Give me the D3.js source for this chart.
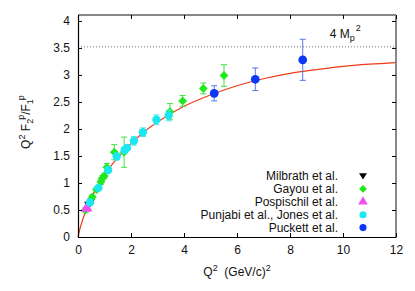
<!DOCTYPE html>
<html>
<head>
<meta charset="utf-8">
<script src="https://cdn.jsdelivr.net/npm/d3@7"></script>
<style>
  body { margin: 0; background: #fff; }
  text { font-family: "Liberation Sans", Arial, sans-serif; fill: #111; }
</style>
</head>
<body>
<svg id="chart"></svg>
<script>
// data
var xTicks = [0, 2, 4, 6, 8, 10, 12];
var yTicks = [0, 0.5, 1, 1.5, 2, 2.5, 3, 3.5, 4];
var yTickLabels = ["0", "0.5", "1", "1.5", "2", "2.5", "3", "3.5", "4"];

var legendNames = ["Milbrath et al.", "Gayou et al.", "Pospischil et al.", "Punjabi et al., Jones et al.", "Puckett et al."];

var milbrathQ2 = [0.38, 0.5];
var milbrathVal = [0.6, 0.66];
var milbrathErr = [0.03, 0.03];

var gayouQ2 = [0.28, 0.54, 0.7, 0.86, 0.92, 0.99, 1.09, 1.37, 1.74, 3.47, 3.95, 4.73, 5.51];
var gayouVal = [0.5, 0.74, 0.88, 1.02, 1.09, 1.13, 1.29, 1.57, 1.57, 2.32, 2.52, 2.75, 2.99];
var gayouErr = [0.04, 0.04, 0.04, 0.05, 0.05, 0.05, 0.07, 0.14, 0.28, 0.15, 0.1, 0.1, 0.2];

var pospischilQ2 = [0.3, 0.35];
var pospischilVal = [0.52, 0.53];
var pospischilErr = [0.03, 0.03];

var punjabiQ2 = [0.45, 0.77, 1.14, 1.46, 1.76, 1.85, 2.11, 2.45, 2.96, 3.42];
var punjabiVal = [0.64, 0.91, 1.24, 1.49, 1.61, 1.65, 1.78, 1.94, 2.17, 2.25];
var punjabiErr = [0.03, 0.03, 0.04, 0.06, 0.05, 0.05, 0.08, 0.08, 0.09, 0.1];

var puckettQ2 = [5.14, 6.69, 8.48];
var puckettVal = [2.66, 2.92, 3.28];
var puckettErr = [0.14, 0.21, 0.38];

// fit curve, read at a few points
var fitQ2 = [0, 0.1, 0.25, 0.5, 0.75, 1, 1.5, 2, 2.5, 3, 4, 5, 6, 7, 8, 9, 10, 11, 12];
var fitVal = [0, 0.2, 0.42, 0.72, 0.95, 1.15, 1.47, 1.73, 1.95, 2.13, 2.42, 2.63, 2.8, 2.93, 3.03, 3.1, 3.16, 3.2, 3.23];

var limitVal = 3.52;

var W = 415, H = 291;
var margin = {top: 15, right: 19, bottom: 54, left: 78},
    width = W - margin.left - margin.right,
    height = H - margin.top - margin.bottom;

var svg = d3.select("#chart").attr("width", W).attr("height", H);
var g = svg.append("g").attr("transform", "translate(" + margin.left + "," + margin.top + ")");

var x = d3.scaleLinear().domain([0, 12]).range([0, width]);
var y = d3.scaleLinear().domain([0, 4.11]).range([height, 0]);

// dotted 4 Mp^2 line
g.append("line")
  .attr("x1", 0).attr("x2", width)
  .attr("y1", y(limitVal)).attr("y2", y(limitVal))
  .attr("stroke", "#777").attr("stroke-width", 1)
  .attr("stroke-dasharray", "1,2");

var lbl = g.append("text")
  .attr("x", x(9.5)).attr("y", y(limitVal) - 9)
  .attr("font-size", 12);
lbl.append("tspan").text("4 M");
lbl.append("tspan").attr("font-size", 9).attr("dy", 3).text("p");
lbl.append("tspan").attr("font-size", 9).attr("dy", -10).attr("dx", 1).text("2");

// fit curve
var fitLine = d3.line()
  .x(function(d, i) { return x(fitQ2[i]); })
  .y(function(d) { return y(d); })
  .curve(d3.curveMonotoneX);
g.append("path")
  .datum(fitVal)
  .attr("fill", "none")
  .attr("stroke", "#f23a1c")
  .attr("stroke-width", 1.2)
  .attr("d", fitLine);

function drawSeries(q2, val, err, color, errColor, shape, size) {
  var pts = q2.map(function(q, i) { return {q: q, v: val[i], e: err[i]}; });
  var s = g.append("g");
  var eb = s.selectAll(".eb").data(pts).enter().append("g").attr("stroke", errColor).attr("stroke-width", 1);
  eb.append("line")
    .attr("x1", function(d) { return x(d.q); }).attr("x2", function(d) { return x(d.q); })
    .attr("y1", function(d) { return y(d.v - d.e); }).attr("y2", function(d) { return y(d.v + d.e); });
  eb.append("line")
    .attr("x1", function(d) { return x(d.q) - 3; }).attr("x2", function(d) { return x(d.q) + 3; })
    .attr("y1", function(d) { return y(d.v - d.e); }).attr("y2", function(d) { return y(d.v - d.e); });
  eb.append("line")
    .attr("x1", function(d) { return x(d.q) - 3; }).attr("x2", function(d) { return x(d.q) + 3; })
    .attr("y1", function(d) { return y(d.v + d.e); }).attr("y2", function(d) { return y(d.v + d.e); });
  s.selectAll(".pt").data(pts).enter().append("path")
    .attr("transform", function(d) { return "translate(" + x(d.q) + "," + y(d.v) + ")"; })
    .attr("d", d3.symbol().type(shape).size(size))
    .attr("fill", color);
}

var triDown = {
  draw: function(ctx, size) {
    var r = Math.sqrt(size) / 1.6;
    ctx.moveTo(-r, -r * 0.7);
    ctx.lineTo(r, -r * 0.7);
    ctx.lineTo(0, r * 0.9);
    ctx.closePath();
  }
};

var diamond = {
  draw: function(ctx, size) {
    var r = Math.sqrt(size) / 1.6;
    ctx.moveTo(0, -r);
    ctx.lineTo(r, 0);
    ctx.lineTo(0, r);
    ctx.lineTo(-r, 0);
    ctx.closePath();
  }
};

drawSeries(milbrathQ2, milbrathVal, milbrathErr, "#000", "#000", triDown, 40);
drawSeries(gayouQ2, gayouVal, gayouErr, "#1fe81f", "#44e044", diamond, 50);
drawSeries(pospischilQ2, pospischilVal, pospischilErr, "#f050f0", "#f070f0", d3.symbolTriangle, 45);
drawSeries(punjabiQ2, punjabiVal, punjabiErr, "#19e8f0", "#50e8f0", d3.symbolCircle, 55);
drawSeries(puckettQ2, puckettVal, puckettErr, "#0a37f5", "#5577f0", d3.symbolCircle, 60);

// borders: top/right gray, left/bottom black
g.append("line").attr("x1", 0).attr("x2", width).attr("y1", 0).attr("y2", 0)
  .attr("stroke", "#888").attr("stroke-width", 2);
g.append("line").attr("x1", width).attr("x2", width).attr("y1", 0).attr("y2", height)
  .attr("stroke", "#888").attr("stroke-width", 2);

// axes with inward ticks
var xAxis = g.append("g").attr("transform", "translate(0," + height + ")")
  .call(d3.axisBottom(x).tickValues(xTicks).tickSizeInner(-4).tickSizeOuter(0).tickPadding(8));
var yAxis = g.append("g")
  .call(d3.axisLeft(y).tickValues(yTicks).tickFormat(function(d, i) { return yTickLabels[i]; })
    .tickSizeInner(-4).tickSizeOuter(0).tickPadding(8));
g.append("g").attr("transform", "translate(0,0)")
  .call(d3.axisTop(x).tickValues(xTicks).tickSizeInner(-4).tickSizeOuter(0).tickFormat(""))
  .select(".domain").remove();
g.append("g").attr("transform", "translate(" + width + ",0)")
  .call(d3.axisRight(y).tickValues(yTicks).tickSizeInner(-4).tickSizeOuter(0).tickFormat(""))
  .select(".domain").remove();
g.selectAll(".tick text").attr("font-size", 12).attr("font-family", "Liberation Sans, Arial, sans-serif").attr("fill", "#111");
xAxis.select(".domain").attr("stroke", "#000").attr("stroke-width", 1.2);
yAxis.select(".domain").attr("stroke", "#000").attr("stroke-width", 1.2);

// legend
var legendShapes = [triDown, diamond, d3.symbolTriangle, d3.symbolCircle, d3.symbolCircle];
var legendColors = ["#000", "#1fe81f", "#f050f0", "#19e8f0", "#0a37f5"];
var leg = g.selectAll(".leg").data(legendNames).enter().append("g")
  .attr("transform", function(d, i) { return "translate(0," + (161 + i * 12.9) + ")"; });
leg.append("text")
  .attr("x", 260).attr("y", 0).attr("dy", "0.35em")
  .attr("text-anchor", "end").attr("font-size", 12)
  .text(function(d) { return d; });
leg.append("path")
  .attr("transform", "translate(285,0)")
  .attr("d", function(d, i) { return d3.symbol().type(legendShapes[i]).size(40)(); })
  .attr("fill", function(d, i) { return legendColors[i]; });

// axis labels
var xl = svg.append("text").attr("x", 237).attr("y", 276).attr("text-anchor", "middle").attr("font-size", 12);
xl.append("tspan").text("Q");
xl.append("tspan").attr("font-size", 9).attr("dy", -5).text("2");
xl.append("tspan").attr("dy", 5).text("\u00a0 (GeV/c)");
xl.append("tspan").attr("font-size", 9).attr("dy", -5).text("2");

var yl = svg.append("text").attr("transform", "translate(30,122) rotate(-90)")
  .attr("text-anchor", "middle").attr("font-size", 12);
yl.append("tspan").text("Q");
yl.append("tspan").attr("font-size", 9).attr("dy", -5).text("2");
yl.append("tspan").attr("dy", 5).text(" F");
yl.append("tspan").attr("font-size", 9).attr("dy", 3).text("2");
yl.append("tspan").attr("font-size", 9).attr("dy", -9).attr("dx", -1).text("p");
yl.append("tspan").attr("dy", 6).text("/F");
yl.append("tspan").attr("font-size", 9).attr("dy", 3).text("1");
yl.append("tspan").attr("font-size", 9).attr("dy", -9).attr("dx", -1).text("p");
</script>
</body>
</html>
